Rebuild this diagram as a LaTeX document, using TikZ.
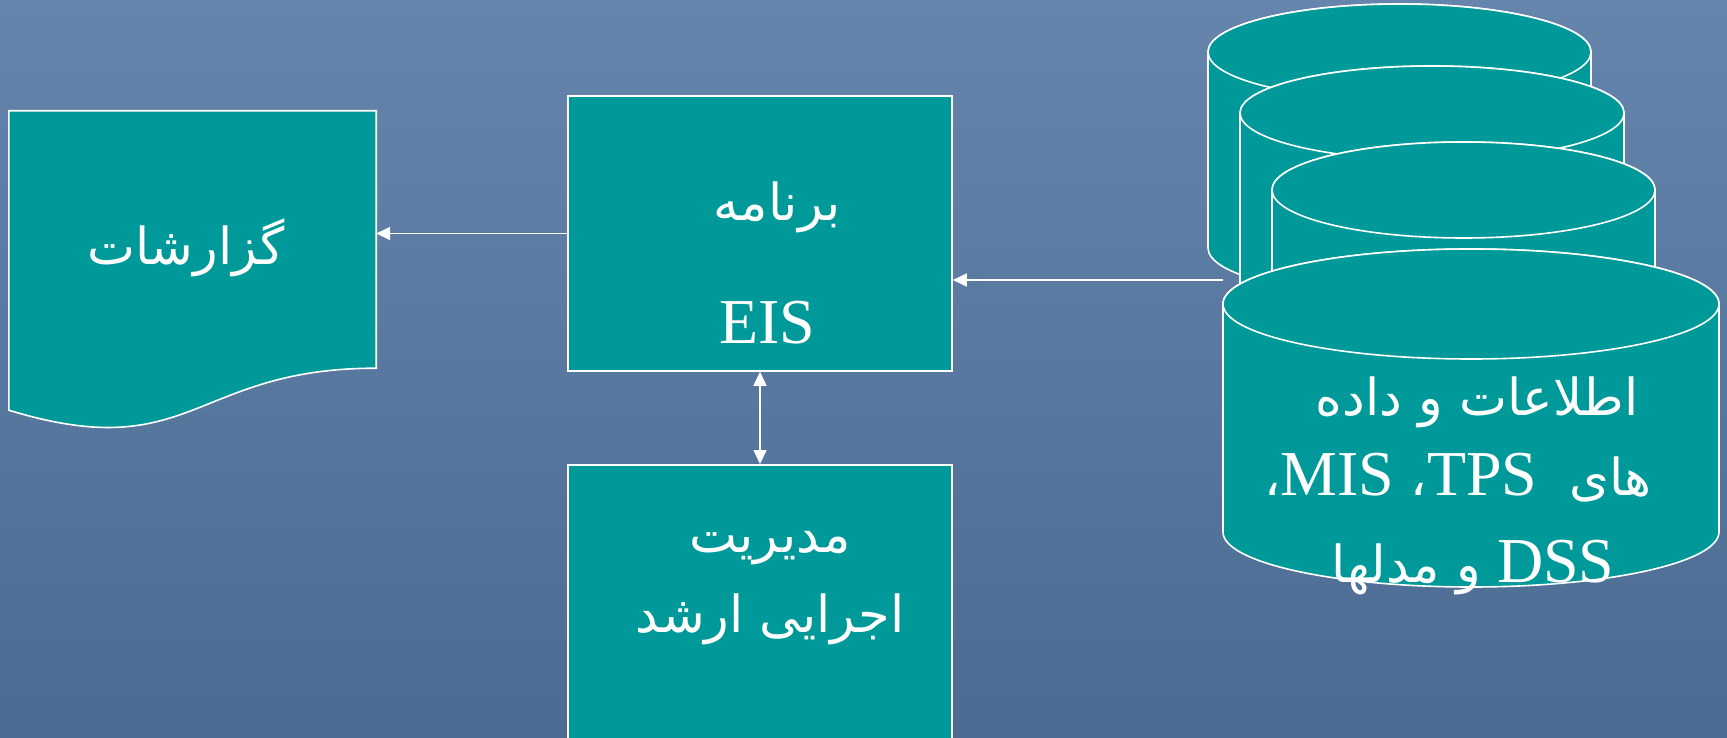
\documentclass[tikz,border=0pt]{standalone}
\usepackage{fontspec}
\setmainfont{Liberation Serif}
\newfontfamily\arabicfont[Script=Arabic]{DejaVu Sans}
\TeXXeTstate=1
\usetikzlibrary{arrows.meta,calc}

\definecolor{bgtop}{HTML}{6585AC}
\definecolor{bgbot}{HTML}{4C6B93}
\definecolor{boxfill}{HTML}{009999}

% Persian text face and size
\newcommand\faface{\arabicfont\fontsize{51}{62}\selectfont}

\tikzset{
  shapebox/.style={draw=white, fill=boxfill, line width=1.6pt, inner sep=0pt},
  diskstyle/.style={draw=white, fill=boxfill, line width=1.6pt},
  link/.style={draw=white, line width=1.6pt, -{Triangle[length=14pt,width=13pt]}},
  twolink/.style={draw=white, line width=1.6pt, {Triangle[length=14pt,width=13pt]}-{Triangle[length=14pt,width=13pt]}},
  fa/.style={text=white, font=\faface, anchor=base, inner sep=0pt},
  en/.style={text=white, font=\fontsize{64}{76}\selectfont, anchor=base, inner sep=0pt},
}

% one disk of the database stack: centre x, top y, bottom y, x radius, y radius
\newcommand\dbdisk[5]{%
  \filldraw[diskstyle] (#1-#4,#2) -- (#1-#4,#3)
    arc[start angle=180, end angle=0, x radius=#4, y radius=#5]
    -- (#1+#4,#2)
    arc[start angle=0, end angle=-180, x radius=#4, y radius=#5] -- cycle;
  \filldraw[diskstyle] (#1,#2) ellipse[x radius=#4, y radius=#5];
}

\begin{document}
\begin{tikzpicture}[x=1pt,y=-1pt]
\useasboundingbox (0,0) rectangle (1727,738);
\clip (0,0) rectangle (1727,738);
\shade[top color=bgtop, bottom color=bgbot] (0,0) rectangle (1727,738);

% report sheet with a wavy lower edge
\node[minimum width=367pt, minimum height=257pt, inner sep=0pt] (rep) at (192.5,239.5) {};
\filldraw[diskstyle] (rep.north west) -- (rep.north east) -- (rep.south east)
  .. controls (rep.south) and ($(rep.south)+(0,98)$) .. ($(rep.south west)+(0,42)$) -- cycle;

% program box and executive box
\node[shapebox, minimum width=384pt, minimum height=275pt] (eis) at (760,233.5) {};
\node[shapebox, minimum width=384pt, minimum height=300pt, anchor=north] (mgr) at (760,464) {};

% stacked data stores, back to front
\dbdisk{1399.5}{52}{248}{191.5}{48}
\dbdisk{1432}{113}{309}{192}{47}
\dbdisk{1463.5}{190}{386}{191.5}{48}
\dbdisk{1471}{304}{532}{248}{55}
\coordinate (db) at (1223,280);

% connectors
\draw[link] (eis.west) -- (eis.west -| rep.east);
\draw[link] (db) -- (db -| eis.east);
\draw[twolink] (eis.south) -- (mgr.north);

% labels
\node[fa] (repT) at (186,265) {\beginR گزارشات\endR};
\node[fa] (eisT1) at (777,221) {\beginR برنامه\endR};
\node[en] (eisT2) at (767,343) {EIS};
\node[fa] (mgrT1) at (770,552) {\beginR مدیریت\endR};
\node[fa] (mgrT2) at (770,632) {\beginR اجرایی ارشد\endR};
\node[fa] (dbT1) at (1477,415) {\beginR اطلاعات و داده\endR};
\node[en] (dbT2) at (1458,495) {\beginR{\faface های}\ \ TPS{\faface ،} MIS{\faface ،}\endR};
\node[en] (dbT3) at (1473,582) {\beginR DSS {\faface و مدلها}\endR};
\end{tikzpicture}
\end{document}
